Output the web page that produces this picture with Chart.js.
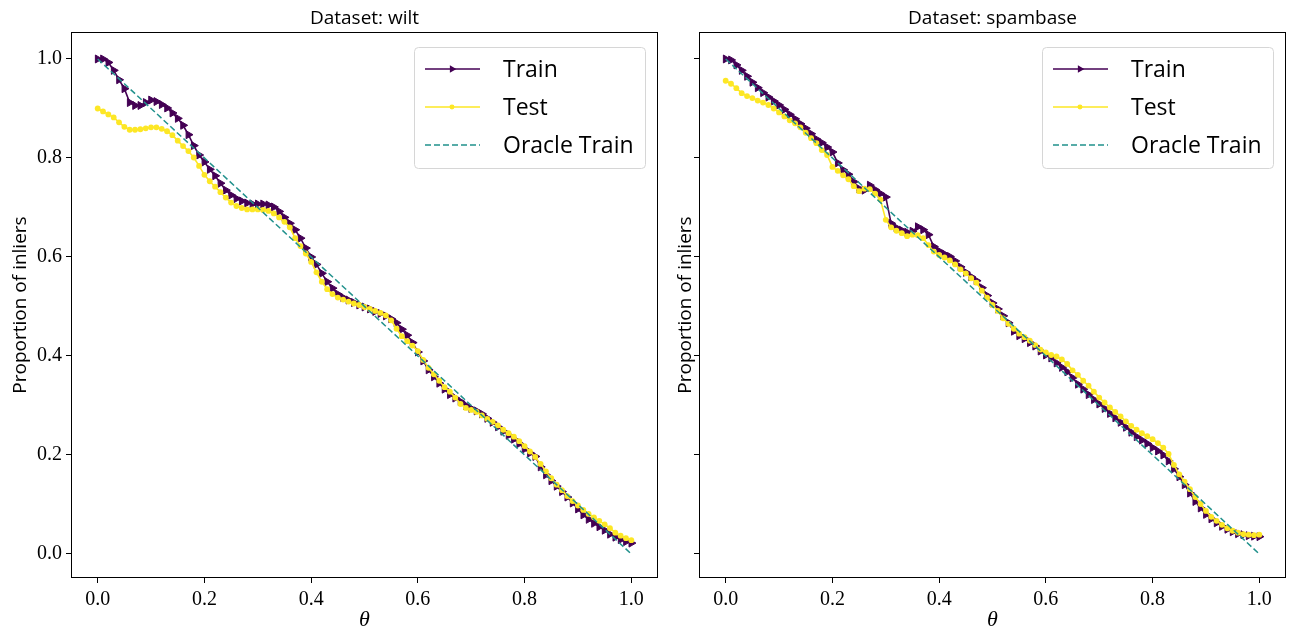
<!DOCTYPE html>
<html>
<head>
<meta charset="utf-8">
<script src="https://cdn.jsdelivr.net/npm/chart.js@4.4.1/dist/chart.umd.min.js"></script>
<style>
  html, body { margin: 0; padding: 0; background: #fff; }
  #wrap { position: relative; width: 1291px; height: 635px; }
  canvas { position: absolute; top: 0; }
</style>
</head>
<body>
<div id="wrap">
  <canvas id="wiltChart" width="660" height="635" style="left:0"></canvas>
  <canvas id="spamChart" width="631" height="635" style="left:660px"></canvas>
</div>
<script>
// --- data ---
const theta = [
  0.00, 0.01, 0.02, 0.03, 0.04, 0.05, 0.06, 0.07, 0.08, 0.09,
  0.10, 0.11, 0.12, 0.13, 0.14, 0.15, 0.16, 0.17, 0.18, 0.19,
  0.20, 0.21, 0.22, 0.23, 0.24, 0.25, 0.26, 0.27, 0.28, 0.29,
  0.30, 0.31, 0.32, 0.33, 0.34, 0.35, 0.36, 0.37, 0.38, 0.39,
  0.40, 0.41, 0.42, 0.43, 0.44, 0.45, 0.46, 0.47, 0.48, 0.49,
  0.50, 0.51, 0.52, 0.53, 0.54, 0.55, 0.56, 0.57, 0.58, 0.59,
  0.60, 0.61, 0.62, 0.63, 0.64, 0.65, 0.66, 0.67, 0.68, 0.69,
  0.70, 0.71, 0.72, 0.73, 0.74, 0.75, 0.76, 0.77, 0.78, 0.79,
  0.80, 0.81, 0.82, 0.83, 0.84, 0.85, 0.86, 0.87, 0.88, 0.89,
  0.90, 0.91, 0.92, 0.93, 0.94, 0.95, 0.96, 0.97, 0.98, 0.99,
  1.00
];

const wiltTrain = [
  1.000, 1.000, 0.993, 0.977, 0.958, 0.940, 0.912, 0.906, 0.906, 0.912,
  0.917, 0.914, 0.908, 0.901, 0.891, 0.880, 0.866, 0.847, 0.825, 0.806,
  0.792, 0.777, 0.764, 0.749, 0.735, 0.725, 0.718, 0.713, 0.709, 0.707,
  0.707, 0.707, 0.705, 0.701, 0.692, 0.680, 0.668, 0.655, 0.638, 0.618,
  0.600, 0.585, 0.567, 0.550, 0.537, 0.525, 0.518, 0.513, 0.508, 0.503,
  0.499, 0.495, 0.490, 0.486, 0.481, 0.475, 0.467, 0.454, 0.442, 0.427,
  0.408, 0.390, 0.372, 0.358, 0.345, 0.333, 0.322, 0.315, 0.308, 0.300,
  0.294, 0.289, 0.283, 0.274, 0.266, 0.257, 0.248, 0.240, 0.232, 0.223,
  0.212, 0.204, 0.197, 0.176, 0.160, 0.148, 0.137, 0.126, 0.115, 0.103,
  0.091, 0.079, 0.070, 0.062, 0.055, 0.048, 0.040, 0.034, 0.029, 0.025,
  0.022
];

const wiltTest = [
  0.900, 0.894, 0.888, 0.882, 0.872, 0.863, 0.857, 0.857, 0.858, 0.860,
  0.862, 0.862, 0.859, 0.854, 0.846, 0.835, 0.824, 0.814, 0.801, 0.784,
  0.766, 0.753, 0.742, 0.731, 0.720, 0.710, 0.703, 0.699, 0.696, 0.696,
  0.696, 0.695, 0.693, 0.688, 0.680, 0.671, 0.660, 0.638, 0.622, 0.607,
  0.590, 0.569, 0.550, 0.535, 0.525, 0.518, 0.514, 0.510, 0.506, 0.503,
  0.499, 0.495, 0.491, 0.487, 0.482, 0.472, 0.455, 0.440, 0.430, 0.421,
  0.410, 0.392, 0.376, 0.363, 0.350, 0.337, 0.328, 0.316, 0.303, 0.295,
  0.291, 0.287, 0.280, 0.273, 0.267, 0.260, 0.251, 0.244, 0.237, 0.228,
  0.218, 0.207, 0.196, 0.182, 0.167, 0.153, 0.140, 0.129, 0.117, 0.107,
  0.098, 0.089, 0.081, 0.074, 0.067, 0.060, 0.052, 0.043, 0.037, 0.032,
  0.028
];

const spamTrain = [
  1.000, 0.998, 0.988, 0.977, 0.965, 0.953, 0.942, 0.932, 0.923, 0.915,
  0.907, 0.898, 0.888, 0.879, 0.869, 0.860, 0.849, 0.838, 0.831, 0.822,
  0.812, 0.790, 0.776, 0.767, 0.752, 0.738, 0.735, 0.745, 0.736, 0.728,
  0.721, 0.668, 0.659, 0.654, 0.650, 0.652, 0.661, 0.655, 0.645, 0.621,
  0.612, 0.606, 0.601, 0.592, 0.580, 0.569, 0.560, 0.552, 0.538, 0.522,
  0.507, 0.495, 0.481, 0.467, 0.450, 0.441, 0.435, 0.427, 0.420, 0.410,
  0.402, 0.396, 0.386, 0.377, 0.368, 0.356, 0.343, 0.333, 0.322, 0.312,
  0.303, 0.294, 0.284, 0.275, 0.266, 0.256, 0.246, 0.237, 0.230, 0.223,
  0.215, 0.208, 0.200, 0.188, 0.172, 0.156, 0.140, 0.123, 0.106, 0.093,
  0.080, 0.071, 0.063, 0.056, 0.050, 0.045, 0.041, 0.039, 0.037, 0.036,
  0.035
];

const spamTest = [
  0.956, 0.950, 0.941, 0.931, 0.925, 0.921, 0.916, 0.912, 0.907, 0.900,
  0.892, 0.884, 0.876, 0.870, 0.862, 0.851, 0.840, 0.830, 0.816, 0.806,
  0.782, 0.774, 0.765, 0.757, 0.743, 0.733, 0.738, 0.737, 0.728, 0.716,
  0.675, 0.660, 0.653, 0.648, 0.642, 0.645, 0.644, 0.638, 0.624, 0.611,
  0.604, 0.599, 0.593, 0.585, 0.575, 0.567, 0.557, 0.548, 0.532, 0.518,
  0.503, 0.491, 0.476, 0.465, 0.455, 0.445, 0.438, 0.431, 0.422, 0.413,
  0.407, 0.402, 0.399, 0.393, 0.384, 0.371, 0.362, 0.350, 0.340, 0.328,
  0.316, 0.306, 0.296, 0.287, 0.278, 0.268, 0.259, 0.251, 0.244, 0.238,
  0.232, 0.224, 0.215, 0.202, 0.180, 0.161, 0.146, 0.131, 0.115, 0.101,
  0.087, 0.075, 0.067, 0.059, 0.052, 0.047, 0.043, 0.040, 0.039, 0.038,
  0.039
];

const oracleTheta = [0, 1];
const oracleValues = [1, 0];

const tickValues = [0, 0.2, 0.4, 0.6, 0.8, 1.0];
const seriesLabels = ['Train', 'Test', 'Oracle Train'];
const seriesColors = ['#440154', '#fde725', '#21918c'];

const SERIF = '"Liberation Serif", serif';
const SANS = '"Open Sans", sans-serif';

function toXY(xs, ys) {
  return xs.map((x, i) => ({ x: x, y: ys[i] }));
}

// full axes box like matplotlib
const framePlugin = {
  id: 'frame',
  afterDatasetsDraw(chart) {
    const { ctx, chartArea: a } = chart;
    const l = Math.round(a.left) + 0.5, t = Math.round(a.top) + 0.5;
    const r = Math.round(a.right) - 0.5, b = Math.round(a.bottom) - 0.5;
    ctx.save();
    ctx.strokeStyle = '#000';
    ctx.lineWidth = 1;
    ctx.strokeRect(l, t, r - l, b - t);
    ctx.restore();
  }
};

// boxed legend in the upper right corner
const boxLegend = {
  id: 'boxLegend',
  afterDraw(chart) {
    const { ctx, chartArea: a } = chart;
    const w = 231, h = 121;
    const x = Math.round(a.right) - 13 - w, y = Math.round(a.top) + 15;
    ctx.save();
    ctx.beginPath();
    ctx.roundRect(x + 0.5, y + 0.5, w, h, 4);
    ctx.fillStyle = 'rgba(255,255,255,0.85)';
    ctx.fill();
    ctx.strokeStyle = '#d6d6d6';
    ctx.lineWidth = 1;
    ctx.stroke();
    chart.data.datasets.forEach((ds, i) => {
      const cy = y + 22 + i * 38;
      ctx.strokeStyle = ds.borderColor;
      ctx.lineWidth = 1.5;
      ctx.setLineDash(ds.borderDash || []);
      ctx.beginPath();
      ctx.moveTo(x + 11, cy);
      ctx.lineTo(x + 66, cy);
      ctx.stroke();
      ctx.setLineDash([]);
      if (ds.pointRadius > 0) {
        ctx.fillStyle = ds.backgroundColor;
        ctx.strokeStyle = ds.borderColor;
        Chart.helpers.drawPoint(ctx, {
          pointStyle: ds.pointStyle,
          rotation: ds.pointRotation || 0,
          radius: ds.pointRadius * 0.6,
          borderWidth: 1
        }, x + 38, cy);
      }
      ctx.fillStyle = '#000';
      ctx.font = '23px ' + SANS;
      ctx.textBaseline = 'middle';
      ctx.fillText(ds.label, x + 89, cy + 1);
    });
    ctx.restore();
  }
};

function makeChart(id, title, train, test, yWidth, yLabels, yTitlePad, padRight) {
  const ctx = document.getElementById(id).getContext('2d');
  return new Chart(ctx, {
    type: 'line',
    data: {
      datasets: [
        {
          label: seriesLabels[0],
          data: toXY(theta, train),
          borderColor: seriesColors[0],
          backgroundColor: seriesColors[0],
          borderWidth: 1.6,
          pointStyle: 'triangle',
          pointRotation: 90,
          pointRadius: 4.6,
          pointBorderWidth: 1,
          order: 3
        },
        {
          label: seriesLabels[1],
          data: toXY(theta, test),
          borderColor: seriesColors[1],
          backgroundColor: seriesColors[1],
          borderWidth: 1.6,
          pointStyle: 'circle',
          pointRadius: 2.9,
          pointBorderWidth: 0,
          order: 2
        },
        {
          label: seriesLabels[2],
          data: toXY(oracleTheta, oracleValues),
          borderColor: seriesColors[2],
          backgroundColor: seriesColors[2],
          borderWidth: 1.5,
          borderDash: [6, 3],
          pointRadius: 0,
          order: 1
        }
      ]
    },
    options: {
      responsive: false,
      animation: false,
      layout: { autoPadding: false, padding: { left: 0, right: padRight, top: 0, bottom: 0 } },
      elements: { line: { tension: 0 } },
      plugins: {
        legend: { display: false },
        tooltip: { enabled: false },
        title: {
          display: true,
          text: title,
          fullSize: false,
          color: '#000',
          font: { family: SANS, size: 19, weight: 'normal' },
          padding: { top: 7, bottom: 2.2 }
        }
      },
      scales: {
        x: {
          type: 'linear',
          min: -0.05,
          max: 1.05,
          afterBuildTicks: s => { s.ticks = tickValues.map(v => ({ value: v })); },
          afterFit: s => { s.height = 57; s.paddingLeft = 0; s.paddingRight = 0; },
          border: { display: false },
          grid: { display: true, drawOnChartArea: false, drawTicks: true, tickLength: 5, color: '#000' },
          ticks: {
            color: '#000',
            maxRotation: 0,
            padding: 5,
            font: { family: SERIF, size: 20 },
            callback: v => v.toFixed(1)
          },
          title: {
            display: true,
            text: 'θ',
            color: '#000',
            font: { family: SERIF, size: 22, style: 'italic' },
            padding: { top: 0, bottom: 2 }
          }
        },
        y: {
          type: 'linear',
          min: -0.0485,
          max: 1.0545,
          afterBuildTicks: s => { s.ticks = tickValues.map(v => ({ value: v })); },
          afterFit: s => { s.width = yWidth; s.paddingTop = 0; s.paddingBottom = 0; },
          border: { display: false },
          grid: { display: true, drawOnChartArea: false, drawTicks: true, tickLength: 5, color: '#000' },
          ticks: {
            color: '#000',
            padding: 4,
            font: { family: SERIF, size: 20 },
            callback: v => (yLabels ? v.toFixed(1) : '')
          },
          title: {
            display: true,
            text: 'Proportion of inliers',
            color: '#000',
            font: { family: SANS, size: 19 },
            padding: { top: yTitlePad, bottom: 0 }
          }
        }
      }
    },
    plugins: [framePlugin, boxLegend]
  });
}

makeChart('wiltChart', 'Dataset: wilt', wiltTrain, wiltTest, 71, true, 9, 2);
makeChart('spamChart', 'Dataset: spambase', spamTrain, spamTest, 39, false, 14, 5);
</script>
</body>
</html>
